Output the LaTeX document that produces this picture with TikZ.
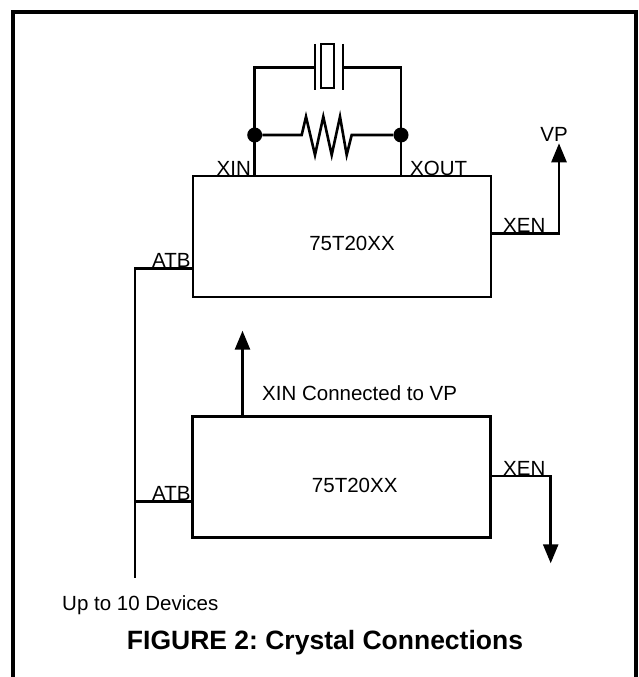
\documentclass[tikz,border=0pt]{standalone}
\usepackage{fontspec}
\setmainfont{Liberation Sans}
\usetikzlibrary{arrows.meta}
\tikzset{
  wire/.style={line width=2.6pt},
  chip/.style={draw, line width=2.6pt, minimum width=298pt, minimum height=121pt, inner sep=0pt},
  pin/.style={inner sep=0pt, font=\fontsize{20.5}{24}\selectfont},
  dot/.style={circle, fill, inner sep=0pt, minimum size=15pt},
  tip/.style={-{Triangle[width=15pt,length=19pt]}}
}
\begin{document}
\frenchspacing
\begin{tikzpicture}[x=1pt,y=-1pt]
  \useasboundingbox (0,0) rectangle (639,677);
  % frame
  \draw[line width=4pt] (12.5,677) -- (12.5,12.5) -- (636,12.5) -- (636,677);
  % chips
  \node[chip, label={[pin,xshift=10pt,yshift=-6.5pt]center:75T20XX}] (chipA) at (342,236.5) {};
  \node[chip, label={[pin,xshift=13pt,yshift=-8.5pt]center:75T20XX}] (chipB) at (341.7,477) {};
  % pins
  \coordinate (xinA) at (254.7,176.5);
  \coordinate (xoutA) at (401,176.5);
  \coordinate (xenA) at (491,233.3);
  \coordinate (atbA) at (193,268.3);
  \coordinate (xinB) at (242.5,416.7);
  \coordinate (xenB) at (490.7,476);
  \coordinate (atbB) at (192.7,501.7);
  % crystal and resistor
  \coordinate (xtalL) at (315,67.7);
  \coordinate (xtalR) at (343.3,67.7);
  \node[dot] (dotL) at (254.7,135) {};
  \node[dot] (dotR) at (401,135) {};
  \draw[wire] (xinA) -- (dotL.center) |- (xtalL);
  \draw[wire] (xoutA) -- (dotR.center) |- (xtalR);
  \draw[line width=2pt] (315,44) -- (315,90) (343.3,44) -- (343.3,90);
  \draw[line width=2pt] (320.7,44) rectangle (334,88);
  \draw[wire] (dotL) -- (301.7,135) -- (306,116.7) -- (315,155) -- (323.3,116.7)
    -- (331.7,155) -- (340,116.7) -- (346.7,155) -- (351.7,135) -- (dotR);
  % enable and bus lines
  \coordinate (vpA) at (559,143.3);
  \coordinate (vpB) at (242.5,330.7);
  \coordinate (gndB) at (550.7,563.3);
  \coordinate (busTop) at (135,268.3);
  \coordinate (busB) at (135,501.7);
  \coordinate (busEnd) at (135,578);
  \draw[wire, tip] (xenA) -| (vpA);
  \draw[wire, tip] (xinB) -- (vpB);
  \draw[wire, tip] (xenB) -| (gndB);
  \draw[wire] (atbA) -- (busTop) -- (busEnd);
  \draw[wire] (busB) -- (atbB);
  % labels
  \node[pin, anchor=base east] (lblXin) at (251,175) {XIN};
  \node[pin, anchor=base west] (lblXout) at (410,175) {XOUT};
  \node[pin, anchor=base] (lblVp) at (554,141) {VP};
  \node[pin, anchor=base west] (lblXenA) at (503,232) {XEN};
  \node[pin, anchor=base west] (lblAtbA) at (152,267) {ATB};
  \node[pin, anchor=base west] (lblConn) at (262,400) {XIN Connected to VP};
  \node[pin, anchor=base west] (lblAtbB) at (152,500.5) {ATB};
  \node[pin, anchor=base west] (lblXenB) at (503,475) {XEN};
  \node[pin, anchor=base west] (lblBus) at (62,610) {Up to 10 Devices};
  \node[inner sep=0pt, anchor=base, font=\bfseries\fontsize{26.5}{30}\selectfont] (title) at (325,649) {FIGURE 2: Crystal Connections};
\end{tikzpicture}
\end{document}
